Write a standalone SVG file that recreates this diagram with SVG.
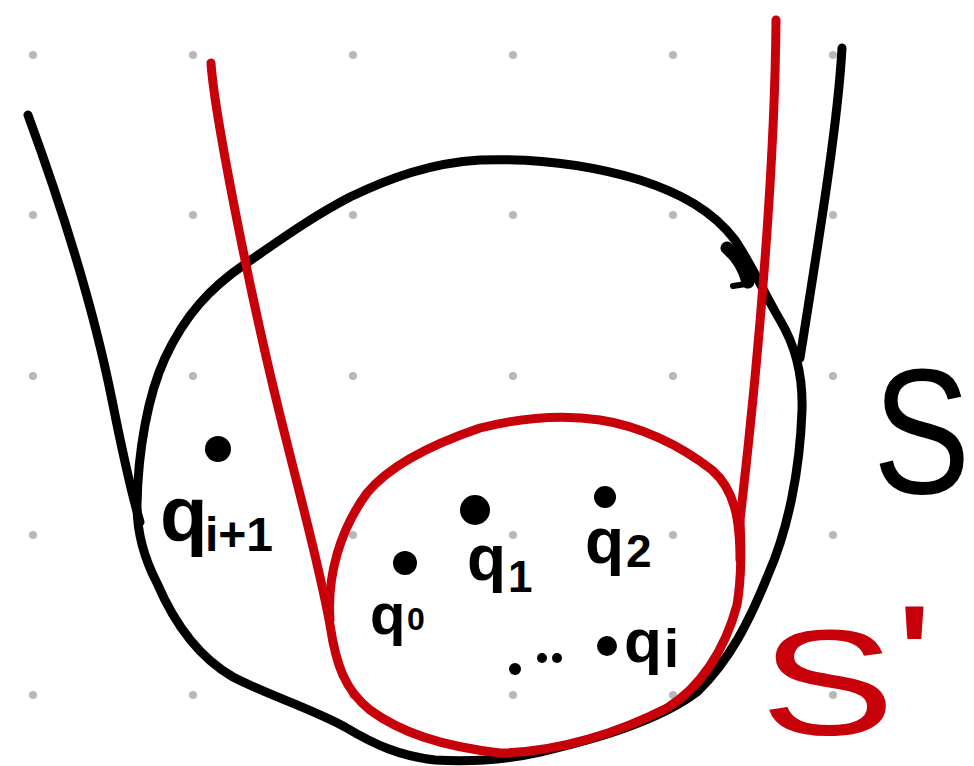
<svg xmlns="http://www.w3.org/2000/svg" width="974" height="766" viewBox="0 0 974 766">
  <defs>
    <style>
      .grid circle { fill: #b8b8b8; }
      .blk { fill: none; stroke: #000; stroke-width: 9; stroke-linecap: round; stroke-linejoin: round; }
      .red { fill: none; stroke: #c8000a; stroke-width: 9; stroke-linecap: round; stroke-linejoin: round; }
      .pt { fill: #000; }
      .lbl { font-family: "Liberation Sans", Arial, sans-serif; font-weight: bold; fill: #000; }
      .big { font-family: "Liberation Sans", Arial, sans-serif; font-weight: normal; }
    </style>
  </defs>
  <rect width="974" height="766" fill="#fff"/>
  <g class="grid">
    <circle cx="33" cy="55" r="4"/><circle cx="193" cy="55" r="4"/><circle cx="353" cy="55" r="4"/><circle cx="513" cy="55" r="4"/><circle cx="673" cy="55" r="4"/><circle cx="833" cy="55" r="4"/>
    <circle cx="33" cy="215" r="4"/><circle cx="193" cy="215" r="4"/><circle cx="353" cy="215" r="4"/><circle cx="513" cy="215" r="4"/><circle cx="673" cy="215" r="4"/><circle cx="833" cy="215" r="4"/>
    <circle cx="33" cy="376" r="4"/><circle cx="193" cy="376" r="4"/><circle cx="353" cy="376" r="4"/><circle cx="513" cy="376" r="4"/><circle cx="673" cy="376" r="4"/><circle cx="833" cy="376" r="4"/>
    <circle cx="33" cy="535" r="4"/><circle cx="193" cy="535" r="4"/><circle cx="353" cy="535" r="4"/><circle cx="513" cy="535" r="4"/><circle cx="673" cy="535" r="4"/><circle cx="833" cy="535" r="4"/>
    <circle cx="33" cy="695" r="4"/><circle cx="193" cy="695" r="4"/><circle cx="353" cy="695" r="4"/><circle cx="513" cy="695" r="4"/><circle cx="673" cy="695" r="4"/><circle cx="833" cy="695" r="4"/>
  </g>
  <g id="connectors">
    <path id="S-left" class="blk" d="M28,115 C50,175 90,290 112,400 C122,450 132,495 140,522"/>
    <path id="S-circle" class="blk" d="M137,505 C138,450 148,395 165,358 C185,315 210,288 245,264 C280,240 310,218 350,197 C390,178 430,163 480,160 C540,158 590,165 640,180 C680,193 712,210 735,240 C752,265 765,295 780,320 C795,345 803,375 802,410 C800,470 788,530 768,575 C750,620 730,660 697,692 C660,720 600,738 540,752 C505,760 470,762 435,760 C400,756 375,745 345,727 C310,708 270,696 233,677 C200,658 175,625 157,583 C145,560 137,535 137,505"/>
    <path id="S-right" class="blk" d="M842,48 C838,120 822,220 800,358"/>
    <path id="S-hook" class="blk" d="M727,248 Q742,260 748,282" style="stroke-width:13"/>
    <path class="blk" d="M733,286 L746,284" style="stroke-width:6"/>
    <path id="Sp-left" class="red" d="M211,63 C214,110 250,300 290,455 C305,515 320,570 330,625 C336,665 345,690 370,710 C400,732 440,746 500,753 C560,752 620,732 667,708 C700,688 725,650 737,605 C742,575 741,545 740,520"/>
    <path id="Sp-circle" class="red" d="M330,620 C327,575 340,530 367,493 C390,465 430,445 480,428 C520,418 560,414 600,420 C640,426 680,445 712,470 C735,490 740,520 740,560"/>
    <path id="Sp-right" class="red" d="M776,20 C775,150 762,330 740,520"/>
  </g>
  <g id="q_i1">
    <circle class="pt" cx="218" cy="449" r="13"/>
    <text class="lbl" x="160" y="541" font-size="78">q</text>
    <text class="lbl" x="205" y="551" font-size="48">i+1</text>
  </g>
  <g id="q0">
    <circle class="pt" cx="405" cy="563" r="12"/>
    <text class="lbl" x="370" y="634" font-size="58">q</text>
    <text class="lbl" x="407" y="630" font-size="32">0</text>
  </g>
  <g id="q1">
    <circle class="pt" cx="475" cy="510" r="15"/>
    <text class="lbl" x="467" y="580" font-size="64">q</text>
    <text class="lbl" x="508" y="592" font-size="44">1</text>
  </g>
  <g id="q2">
    <circle class="pt" cx="605" cy="497" r="11"/>
    <text class="lbl" x="585" y="563" font-size="64">q</text>
    <text class="lbl" x="626" y="567" font-size="46">2</text>
  </g>
  <g id="dots">
    <circle class="pt" cx="515" cy="669" r="6"/>
    <circle class="pt" cx="542" cy="658" r="5"/>
    <circle class="pt" cx="557" cy="658" r="5"/>
  </g>
  <g id="qi">
    <circle class="pt" cx="607" cy="646" r="10"/>
    <text class="lbl" x="624" y="662" font-size="62">q</text>
    <text class="lbl" x="664" y="667" font-size="54">i</text>
  </g>
  <g id="S-label">
    <text class="big" transform="translate(873,493) scale(0.82,1)" x="0" y="0" font-size="178" fill="#000">S</text>
  </g>
  <g id="Sp-label">
    <text class="big" transform="translate(760,735) scale(1.35,1)" x="0" y="0" font-size="150" fill="#c8000a">S<tspan dy="-25">'</tspan></text>
  </g>
</svg>
